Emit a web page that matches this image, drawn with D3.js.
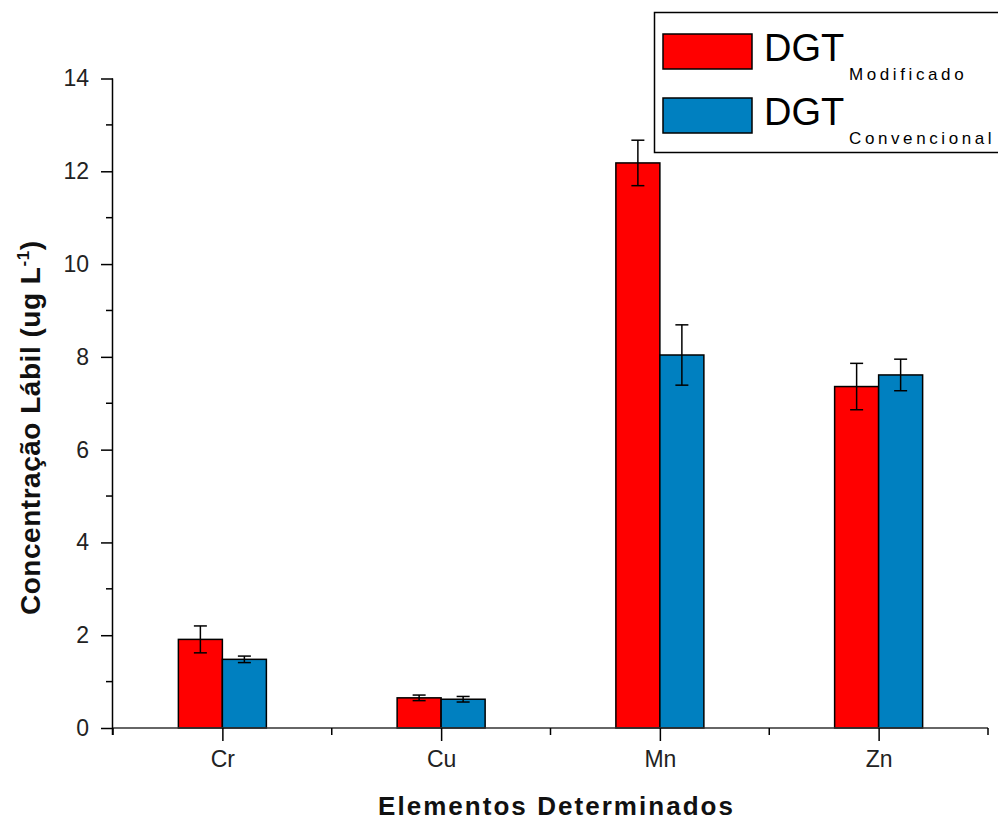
<!DOCTYPE html>
<html>
<head>
<meta charset="utf-8">
<script src="https://cdn.jsdelivr.net/npm/d3@7"></script>
<style>
  body { margin: 0; background: #fff; }
  svg { display: block; font-family: "Liberation Sans", Arial, sans-serif; }
</style>
</head>
<body>
<svg id="chart" width="998" height="820"></svg>
<script>
// Labile concentration by element, two DGT devices
const elements = ["Cr", "Cu", "Mn", "Zn"];
const modificado = [1.91, 0.65, 12.18, 7.36];
const modificadoErr = [0.29, 0.06, 0.49, 0.50];
const convencional = [1.48, 0.62, 8.04, 7.61];
const convencionalErr = [0.07, 0.06, 0.65, 0.34];
const yTicks = [0, 2, 4, 6, 8, 10, 12, 14];
const yMinorTicks = [1, 3, 5, 7, 9, 11, 13];

const svg = d3.select("#chart");
const plotLeft = 113, plotRight = 988, plotTop = 78.5, plotBottom = 728;

// categories sit at 1..4 on a 0.5..4.5 axis
const x = d3.scaleLinear().domain([0.5, 4.5]).range([plotLeft, plotRight]);
const y = d3.scaleLinear().domain([0, 14]).range([plotBottom, plotTop]);
const barW = 44;

const series = [
  { values: modificado, err: modificadoErr, color: "#FF0000", offset: -1 },
  { values: convencional, err: convencionalErr, color: "#0080C0", offset: 0 }
];

series.forEach(s => {
  const g = svg.append("g");
  g.selectAll("rect").data(s.values).join("rect")
    .attr("x", (d, i) => x(i + 1) + s.offset * barW)
    .attr("y", d => y(d))
    .attr("width", barW)
    .attr("height", d => y(0) - y(d))
    .attr("fill", s.color)
    .attr("stroke", "#000")
    .attr("stroke-width", 1.5);
  // error bars
  const eb = g.selectAll("g.err").data(s.values).join("g").attr("class", "err");
  const cx = (d, i) => x(i + 1) + s.offset * barW + barW / 2;
  eb.append("line")
    .attr("x1", cx).attr("x2", cx)
    .attr("y1", (d, i) => y(d + s.err[i])).attr("y2", (d, i) => y(d - s.err[i]))
    .attr("stroke", "#000").attr("stroke-width", 1.5);
  [1, -1].forEach(sign => {
    eb.append("line")
      .attr("x1", (d, i) => cx(d, i) - 6.5).attr("x2", (d, i) => cx(d, i) + 6.5)
      .attr("y1", (d, i) => y(d + sign * s.err[i])).attr("y2", (d, i) => y(d + sign * s.err[i]))
      .attr("stroke", "#000").attr("stroke-width", 1.5);
  });
});

// y axis
const yAxis = d3.axisLeft(y).tickValues(yTicks).tickSize(12).tickPadding(12).tickFormat(d3.format("d"));
const gy = svg.append("g").attr("transform", `translate(${plotLeft},0)`).call(yAxis);
gy.select(".domain").attr("d", `M-0.5,${plotTop}V${plotBottom + 7}`).attr("stroke-width", 1.5);
gy.selectAll(".tick line").attr("stroke-width", 1.5);
gy.selectAll(".tick text").attr("font-size", 23).attr("fill", "#222").attr("font-family", "Liberation Sans, Arial, sans-serif");
svg.append("g").selectAll("line").data(yMinorTicks).join("line")
  .attr("x1", plotLeft - 7).attr("x2", plotLeft).attr("y1", d => y(d)).attr("y2", d => y(d))
  .attr("stroke", "#000").attr("stroke-width", 1.5);

// x axis
const xAxis = d3.axisBottom(x).tickValues([1, 2, 3, 4]).tickSize(13).tickPadding(10)
  .tickFormat((d, i) => elements[i]);
const gx = svg.append("g").attr("transform", `translate(0,${plotBottom})`).call(xAxis);
gx.select(".domain").attr("d", `M${plotLeft},0H${plotRight}`).attr("stroke-width", 1.5).attr("stroke", "#333");
gx.selectAll(".tick line").attr("stroke-width", 1.5);
gx.selectAll(".tick text").attr("font-size", 23).attr("fill", "#222").attr("font-family", "Liberation Sans, Arial, sans-serif");
svg.append("g").selectAll("line").data([0.5, 1.5, 2.5, 3.5, 4.5]).join("line")
  .attr("x1", d => x(d)).attr("x2", d => x(d)).attr("y1", plotBottom).attr("y2", plotBottom + 7)
  .attr("stroke", "#000").attr("stroke-width", 1.5);

// axis titles
svg.append("text")
  .attr("x", 378).attr("y", 815)
  .attr("font-size", 26).attr("font-weight", "bold")
  .attr("textLength", 355).attr("lengthAdjust", "spacing")
  .attr("fill", "#111")
  .text("Elementos Determinados");

const yt = svg.append("text")
  .attr("transform", "translate(40,615) rotate(-90)")
  .attr("font-size", 28).attr("font-weight", "bold")
  .attr("textLength", 374).attr("lengthAdjust", "spacing")
  .attr("fill", "#111");
yt.append("tspan").text("Concentração Lábil (ug L");
yt.append("tspan").attr("dy", -11).attr("font-size", 17).text("-1");
yt.append("tspan").attr("dy", 11).text(")");

// legend
const lg = svg.append("g");
lg.append("rect").attr("x", 654.5).attr("y", 12.5).attr("width", 360).attr("height", 140)
  .attr("fill", "#fff").attr("stroke", "#000").attr("stroke-width", 1.5);
const legendItems = [
  { color: "#FF0000", sub: "Modificado", y: 34 },
  { color: "#0080C0", sub: "Convencional", y: 98 }
];
legendItems.forEach(it => {
  lg.append("rect").attr("x", 663).attr("y", it.y).attr("width", 89).attr("height", 35)
    .attr("fill", it.color).attr("stroke", "#000").attr("stroke-width", 1.5);
  const t = lg.append("text").attr("x", 764).attr("y", it.y + 27).attr("fill", "#000");
  t.append("tspan").attr("font-size", 38).text("DGT");
  t.append("tspan").attr("x", 849).attr("font-size", 17).attr("dy", 19).attr("letter-spacing", 3.6).text(it.sub);
});
</script>
</body>
</html>
